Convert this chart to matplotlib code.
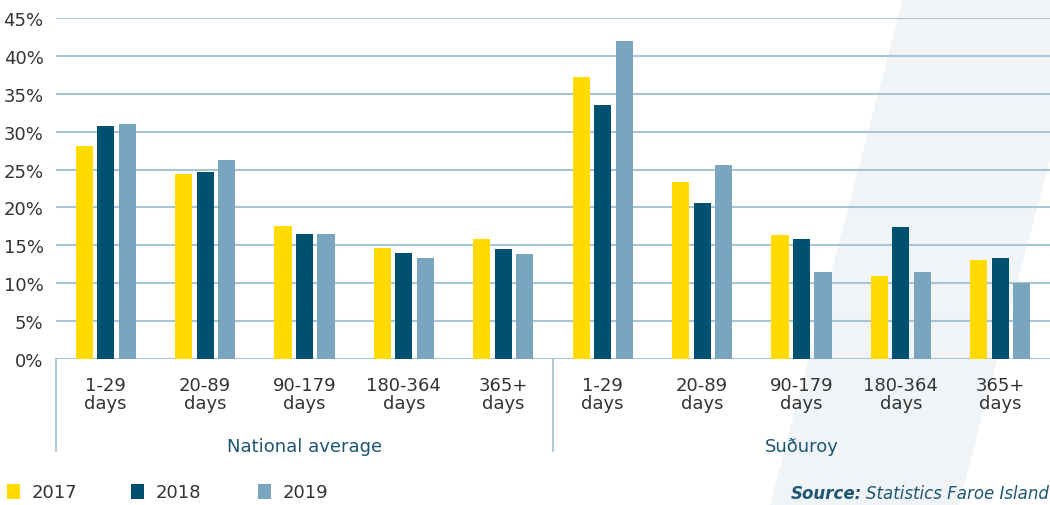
import numpy as np
import matplotlib
matplotlib.use("Agg")
import matplotlib.pyplot as plt
from matplotlib.patches import Polygon, Rectangle
from matplotlib.lines import Line2D

# data (percent)
categories = ["1-29\ndays", "20-89\ndays", "90-179\ndays", "180-364\ndays", "365+\ndays"] * 2
groups = ["National average", "Suðuroy"]
years = ["2017", "2018", "2019"]
v2017 = [28.1, 24.4, 17.6, 14.7, 15.8, 37.2, 23.4, 16.3, 10.9, 13.1]
v2018 = [30.8, 24.7, 16.5, 14.0, 14.5, 33.5, 20.6, 15.8, 17.4, 13.3]
v2019 = [31.0, 26.3, 16.5, 13.3, 13.8, 41.9, 25.6, 11.5, 11.5, 10.0]
yticks = [0, 5, 10, 15, 20, 25, 30, 35, 40, 45]

colors = ["#FFDB00", "#00506F", "#79A6BE"]
grid_col = "#A9C4D5"
text_col = "#333333"
blue_text = "#1D5673"

plt.rcParams['font.family'] = ['DejaVu Sans']

W, H = 1050, 506
fig = plt.figure(figsize=(W / 100, H / 100), dpi=100)

# faint diagonal stripe in the background (figure pixel coords)
def fx(px):
    return px / W

def fy(py):
    return 1 - py / H

stripe = Polygon([(fx(903), fy(0)), (fx(1092), fy(0)), (fx(959), fy(506)), (fx(770), fy(506))],
                 closed=True, transform=fig.transFigure, facecolor="#F0F4F7",
                 edgecolor="none", zorder=-5)
fig.patches.append(stripe)

ax = fig.add_axes([fx(56), fy(360), 1 - fx(56), fy(19) - fy(360)])
ax.set_zorder(2)
ax.patch.set_alpha(0)

x = np.arange(len(categories))
bw = 0.172
step = 0.216
for i, (vals, c) in enumerate(zip([v2017, v2018, v2019], colors)):
    ax.bar(x + (i - 1) * step, vals, width=bw, color=c, zorder=3, linewidth=0)

ax.set_xlim(-0.5, len(categories) - 0.5)
ax.set_ylim(0, 45)
ax.set_yticks(yticks)
ax.set_yticklabels([f"{t}%" for t in yticks])
ax.set_xticks(x)
ax.set_xticklabels(categories, linespacing=1.0)
ax.yaxis.grid(True, color=grid_col, linewidth=1.5, zorder=1)
ax.xaxis.grid(False)
for s in ax.spines.values():
    s.set_visible(False)
ax.tick_params(axis="both", length=0, labelsize=13, labelcolor=text_col)
ax.tick_params(axis="y", pad=9)
ax.tick_params(axis="x", pad=12)
for lab in ax.get_yticklabels():
    lab.set_clip_on(False)

# group separators and group labels
trans = ax.get_xaxis_transform()
for xs in [-0.5, 4.5]:
    ax.add_line(Line2D([xs, xs], [0, -0.27], transform=trans, color=grid_col,
                       linewidth=1.3, clip_on=False))
for gx, g in zip([2, 7], groups):
    ax.text(gx, -0.255, g, transform=trans, ha="center", va="center",
            fontsize=13, color=blue_text)

# legend as plain squares + text
lx = [7, 131, 258]
for px, yr, c in zip(lx, years, colors):
    fig.add_artist(Rectangle((fx(px), fy(500)), 13 / W, 15 / H, transform=fig.transFigure,
                             facecolor=c, edgecolor="none"))
    fig.text(fx(px + 25), fy(493), yr, fontsize=13, color=text_col, va="center", ha="left")

# source note
src = fig.text(fx(1049), fy(494), "Statistics Faroe Island", fontsize=12, color=blue_text,
               style="italic", ha="right", va="center")
fig.canvas.draw()
bb = src.get_window_extent()
fig.text(bb.x0 / W - 4 / W, fy(494), "Source:", fontsize=12, color=blue_text,
         style="italic", weight="bold", ha="right", va="center")

fig.savefig("out.png", dpi=100)
